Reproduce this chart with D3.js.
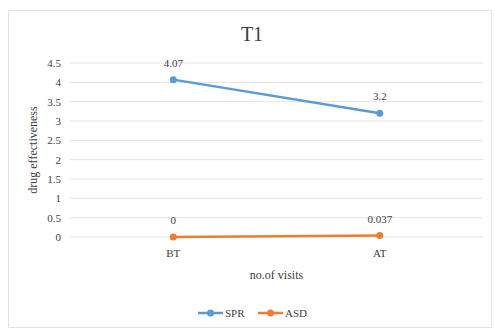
<!DOCTYPE html>
<html>
<head>
<meta charset="utf-8">
<script src="https://cdn.jsdelivr.net/npm/d3@7"></script>
<style>
  body { margin: 0; background: #fff; }
</style>
</head>
<body>
<svg id="svg"></svg>
<script>
// data
let visits = ["BT", "AT"]
let sprValues = [4.07, 3.2]
let asdValues = [0, 0.037]
let sprLabels = ["4.07", "3.2"]
let asdLabels = ["0", "0.037"]
let yTicks = [0, 0.5, 1, 1.5, 2, 2.5, 3, 3.5, 4, 4.5]

// colors
let blue = "#5b9bd5"
let orange = "#ed7d31"
let grid = "#e3e3e3"
let textColor = "#404040"
let serif = "'Liberation Serif', 'DejaVu Serif', 'Times New Roman', Times, serif"

let width = 495, height = 331
let svg = d3.select("#svg").attr("width", width).attr("height", height)

let plot = { left: 70, right: 483, top: 63, bottom: 237 }

// chart frame
svg.append("rect")
  .attr("x", 8.5).attr("y", 10.5)
  .attr("width", 483).attr("height", 317)
  .attr("fill", "none").attr("stroke", "#e3e3e3")

let x = d3.scaleBand().domain(visits).range([plot.left, plot.right])
let y = d3.scaleLinear().domain([0, 4.5]).range([plot.bottom, plot.top])

// gridlines
svg.append("g").selectAll("line").data(yTicks).join("line")
  .attr("x1", plot.left).attr("x2", plot.right)
  .attr("y1", d => y(d)).attr("y2", d => y(d))
  .attr("stroke", grid).attr("stroke-width", 1)

// y axis
let yAxis = svg.append("g")
  .attr("transform", `translate(${plot.left},0)`)
  .call(d3.axisLeft(y).tickValues(yTicks).tickSize(0).tickPadding(9).tickFormat(d3.format("")))
yAxis.select(".domain").remove()

// x axis
let xAxis = svg.append("g")
  .attr("transform", `translate(0,${plot.bottom})`)
  .call(d3.axisBottom(x).tickSize(0).tickPadding(12))
xAxis.select(".domain").remove()

// title & axis titles
svg.append("text").attr("x", 252).attr("y", 41)
  .attr("text-anchor", "middle").style("font-size", "20px").text("T1")
svg.append("text").attr("x", (plot.left + plot.right) / 2).attr("y", 279)
  .attr("text-anchor", "middle").style("font-size", "12px").text("no.of visits")
svg.append("text")
  .attr("transform", `translate(37,150) rotate(-90)`)
  .attr("text-anchor", "middle").style("font-size", "12px").text("drug effectiveness")

let line = d3.line()
  .x((d, i) => x(visits[i]) + x.bandwidth() / 2)
  .y(d => y(d))

let series = [
  { name: "SPR", values: sprValues, labels: sprLabels, color: blue },
  { name: "ASD", values: asdValues, labels: asdLabels, color: orange }
]

series.forEach(s => {
  let g = svg.append("g")
  g.append("path").datum(s.values)
    .attr("d", line).attr("fill", "none")
    .attr("stroke", s.color).attr("stroke-width", 2.5)
  g.selectAll("circle").data(s.values).join("circle")
    .attr("cx", (d, i) => x(visits[i]) + x.bandwidth() / 2)
    .attr("cy", d => y(d)).attr("r", 3.5)
    .attr("fill", s.color)
  g.selectAll("text").data(s.values).join("text")
    .attr("x", (d, i) => x(visits[i]) + x.bandwidth() / 2)
    .attr("y", d => y(d) - 13)
    .attr("text-anchor", "middle").style("font-size", "11px")
    .text((d, i) => s.labels[i])
})

// legend
let legend = svg.append("g").attr("transform", "translate(198,313)")
series.forEach((s, i) => {
  let lg = legend.append("g").attr("transform", `translate(${i * 60},0)`)
  lg.append("line").attr("x1", 0).attr("x2", 25).attr("y1", 0).attr("y2", 0)
    .attr("stroke", s.color).attr("stroke-width", 2.5)
  lg.append("circle").attr("cx", 12.5).attr("cy", 0).attr("r", 3.5).attr("fill", s.color)
  lg.append("text").attr("x", 27).attr("y", 4).style("font-size", "11px").text(s.name)
})

// serif font for every text
svg.selectAll("text")
  .style("font-family", serif)
  .style("fill", textColor)
  .style("font-size", function () { return this.style.fontSize || "11px" })
</script>
</body>
</html>
